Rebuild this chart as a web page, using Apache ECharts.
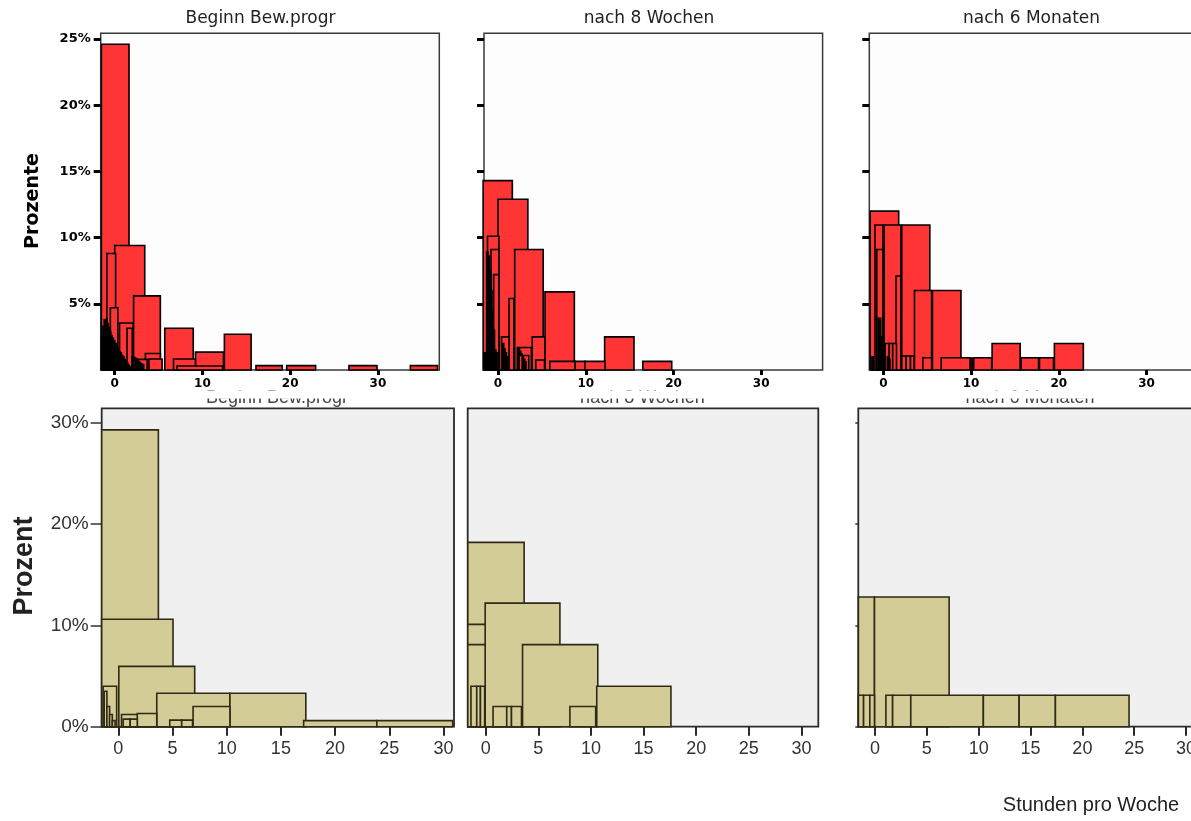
<!DOCTYPE html>
<html>
<head>
<meta charset="utf-8">
<script src="https://cdn.jsdelivr.net/npm/echarts@6/dist/echarts.min.js"></script>
<style>
  html, body { margin: 0; padding: 0; background: #ffffff; }
  #chart { width: 1191px; height: 821px; }
</style>
</head>
<body>
<div id="chart"></div>
<script>
// Panel titles, axis names and tick values
const panelTitles = ['Beginn Bew.progr', 'nach 8 Wochen', 'nach 6 Monaten'];
const topAxisName = 'Prozente';
const bottomAxisName = 'Prozent';
const xAxisName = 'Stunden pro Woche';
const topXTicks = [0, 10, 20, 30];
const topYTicks = [5, 10, 15, 20, 25];
const bottomXTicks = [0, 5, 10, 15, 20, 25, 30];
const bottomYTicks = [0, 10, 20, 30];

// Histogram bins, each as [from (h), to (h), percent]
const topBeginn = [
  [-1.52, 1.63, 24.6], [0.0, 3.42, 9.4], [-0.9, 0.1, 8.8], [-0.5, 0.35, 4.7],
  [0.55, 2.1, 3.55], [1.4, 2.0, 3.15], [2.15, 5.2, 5.6], [3.5, 5.2, 1.25],
  [3.9, 5.4, 0.83], [2.2, 3.7, 0.8], [5.7, 8.95, 3.15], [6.7, 9.2, 0.83],
  [7.1, 12.3, 0.3], [9.2, 12.4, 1.35], [12.5, 15.55, 2.7], [16.1, 19.1, 0.33],
  [19.6, 22.9, 0.33], [26.7, 29.9, 0.33], [33.7, 36.8, 0.33],
  // many single-value bins close to zero
  [-1.5, -1.35, 2.5], [-1.35, -1.2, 3.3], [-1.2, -1.05, 3.8], [-1.05, -0.9, 3.8],
  [-0.9, -0.75, 3.5], [-0.75, -0.6, 3.2], [-0.6, -0.45, 2.9], [-0.45, -0.3, 2.6],
  [-0.3, -0.15, 2.4], [-0.15, 0.0, 2.2], [0.0, 0.15, 2.0], [0.15, 0.3, 1.8],
  [0.3, 0.45, 1.6], [0.45, 0.6, 1.4], [0.6, 0.75, 1.3], [0.75, 0.9, 1.1],
  [0.9, 1.05, 1.0], [1.05, 1.2, 0.8], [1.2, 1.35, 0.6], [1.35, 1.5, 0.5],
  [1.5, 1.65, 0.35], [1.65, 1.8, 0.25],
  [1.95, 2.1, 1.0], [2.1, 2.25, 0.95], [2.25, 2.4, 0.9], [2.4, 2.55, 0.8],
  [2.55, 2.7, 0.7], [2.7, 2.85, 0.6], [2.85, 3.0, 0.5], [3.0, 3.15, 0.45], [3.15, 3.3, 0.4]
];
const topWochen = [
  [-1.7, 1.63, 14.3], [0.0, 3.4, 12.9], [1.9, 5.15, 9.1], [5.35, 8.7, 5.9],
  [12.15, 15.5, 2.5], [16.5, 19.8, 0.65], [5.9, 8.8, 0.65], [8.8, 9.9, 0.65],
  [9.9, 12.2, 0.65], [-1.2, 0.1, 10.1], [-0.8, 0.1, 9.1], [-0.5, 0.1, 7.2],
  [1.25, 1.8, 5.4], [3.9, 5.35, 2.5], [0.4, 1.25, 2.5], [2.2, 3.8, 1.7],
  [2.4, 3.5, 1.1], [4.3, 5.3, 0.75],
  [-1.6, -1.45, 1.3], [-1.45, -1.3, 1.3], [-1.3, -1.15, 8.9], [-1.15, -1.0, 8.6],
  [-1.0, -0.85, 7.5], [-0.85, -0.7, 6.0], [-0.7, -0.55, 4.5], [-0.55, -0.4, 3.0],
  [-0.4, -0.25, 1.5], [-0.25, -0.1, 1.3], [0.5, 0.65, 2.0], [0.65, 0.8, 1.6],
  [0.8, 0.95, 1.3], [0.95, 1.1, 1.0], [2.3, 2.45, 1.6], [2.45, 2.6, 1.4],
  [2.6, 2.75, 1.2], [2.75, 2.9, 1.0], [2.9, 3.05, 0.8], [3.05, 3.2, 0.6]
];
const topMonate = [
  [-1.5, 1.75, 12.0], [-0.95, -0.05, 10.95], [0.1, 2.0, 10.95], [2.1, 5.3, 10.95],
  [-0.75, -0.05, 9.1], [1.45, 2.0, 7.1], [3.55, 5.5, 6.0], [5.6, 8.85, 6.0],
  [0.2, 0.68, 2.0], [0.68, 1.07, 2.0], [1.07, 1.5, 2.0], [12.4, 15.6, 2.0],
  [15.7, 17.7, 0.93], [17.8, 19.4, 0.93], [19.5, 22.8, 2.0], [10.3, 12.35, 0.93],
  [6.6, 9.9, 0.93], [4.5, 5.5, 0.93], [2.1, 2.6, 1.06], [2.6, 3.1, 1.06],
  [3.1, 3.5, 1.06],
  [-1.3, -1.15, 1.0], [-0.6, -0.45, 3.9], [-0.45, -0.3, 3.9], [-0.3, -0.15, 2.5],
  [-0.15, 0.0, 1.5], [0.45, 0.6, 1.0], [0.6, 0.75, 0.8], [9.95, 10.15, 0.9]
];
const bottomBeginn = [
  [-1.53, 3.7, 29.3], [-1.53, 5.05, 10.6], [0.05, 7.05, 5.95], [3.55, 10.3, 3.3],
  [10.3, 17.3, 3.3], [6.9, 10.3, 2.0], [17.1, 23.85, 0.6], [23.85, 30.85, 0.6],
  [1.75, 3.55, 1.3], [0.3, 1.75, 1.2], [4.75, 5.85, 0.65], [5.85, 6.85, 0.65],
  [-1.4, -0.15, 4.0], [0.45, 1.1, 0.75], [1.1, 1.75, 0.75],
  [-1.3, -1.05, 3.5], [-1.05, -0.8, 2.0], [-0.8, -0.55, 1.2], [-0.55, -0.3, 0.6]
];
const bottomWochen = [
  [-1.7, 3.65, 18.2], [-0.05, 7.05, 12.2], [3.5, 10.65, 8.1], [10.55, 17.6, 4.0],
  [-1.7, -0.05, 10.1], [-1.7, -0.05, 8.1], [-1.4, -0.85, 4.0], [-0.85, -0.5, 4.0],
  [-0.5, -0.1, 4.0], [0.7, 2.0, 2.0], [2.0, 2.45, 2.0], [2.45, 3.4, 2.0],
  [8.0, 10.45, 2.0]
];
const bottomMonate = [
  [-1.6, -0.05, 12.8], [-0.05, 7.15, 12.8], [-1.6, -1.1, 3.1], [-1.1, -0.5, 3.1],
  [-0.5, -0.05, 3.1], [1.05, 1.7, 3.1], [1.7, 3.45, 3.1], [3.45, 10.45, 3.1],
  [10.45, 13.9, 3.1], [13.9, 17.4, 3.1], [17.4, 24.5, 3.1]
];

const topSets = [topBeginn, topWochen, topMonate];
const bottomSets = [bottomBeginn, bottomWochen, bottomMonate];

// Panel placement (pixels) and axis ranges
const topGrids = [
  { left: 100.7, top: 33.3, width: 338.6, height: 336.7, xMin: -1.6, xMax: 37 },
  { left: 484,   top: 33.3, width: 338.6, height: 336.7, xMin: -1.6, xMax: 37 },
  { left: 869.3, top: 33.3, width: 338.6, height: 336.7, xMin: -1.6, xMax: 37 }
];
const bottomGrids = [
  { left: 101.7, top: 408.3, width: 352.3, height: 318.4, xMin: -1.53, xMax: 30.97, yTick: 11 },
  { left: 467.7, top: 408.3, width: 350.6, height: 318.4, xMin: -1.71, xMax: 31.6,  yTick: 0 },
  { left: 858.3, top: 408.3, width: 351,   height: 318.4, xMin: -1.61, xMax: 32.24, yTick: 3 }
];
const topYMax = 25.43;
const bottomYMax = 31.43;

const RED = '#ff3434';
const KHAKI = '#d3cc96';

function sortedDesc(rows) {
  return rows.slice().sort((a, b) => b[2] - a[2]);
}

function makeRender(fill, stroke, lw) {
  return function (params, api) {
    const p0 = api.coord([api.value(0), api.value(2)]);
    const p1 = api.coord([api.value(1), 0]);
    return {
      type: 'rect',
      shape: { x: p0[0], y: p0[1], width: p1[0] - p0[0], height: p1[1] - p0[1] },
      style: { fill: fill, stroke: stroke, lineWidth: lw }
    };
  };
}

const grid = [], xAxis = [], yAxis = [], series = [];

topGrids.forEach((g, i) => {
  grid.push({
    left: g.left, top: g.top, width: g.width, height: g.height,
    outerBoundsMode: 'none', containLabel: false,
    show: true, backgroundColor: '#fdfdfd', borderColor: '#3a3a3a', borderWidth: 1.5
  });
  xAxis.push({
    type: 'value', gridIndex: i, min: g.xMin, max: g.xMax, position: 'bottom',
    axisLine: { show: false, onZero: false }, splitLine: { show: false },
    axisTick: { show: true, inside: false, customValues: topXTicks, length: 5, lineStyle: { color: '#000', width: 3 } },
    axisLabel: {
      customValues: topXTicks, margin: 8, color: '#000',
      fontFamily: 'DejaVu Sans', fontWeight: 'bold', fontSize: 12
    }
  });
  yAxis.push({
    type: 'value', gridIndex: i, min: 0, max: topYMax, position: 'left',
    axisLine: { show: false, onZero: false }, splitLine: { show: false },
    axisTick: { show: true, inside: false, customValues: topYTicks, length: 7, lineStyle: { color: '#000', width: 3 } },
    axisLabel: {
      show: i === 0, customValues: topYTicks, margin: 10, formatter: '{value}%',
      color: '#000', fontFamily: 'DejaVu Sans', fontWeight: 'bold', fontSize: 13
    }
  });
  series.push({
    type: 'custom', xAxisIndex: i, yAxisIndex: i,
    encode: { x: [0, 1], y: 2 },
    renderItem: makeRender(RED, '#000', 1.6),
    data: sortedDesc(topSets[i]),
    z: 3
  });
});

bottomGrids.forEach((g, j) => {
  const i = j + 3;
  grid.push({
    left: g.left, top: g.top, width: g.width, height: g.height,
    outerBoundsMode: 'none', containLabel: false,
    show: true, backgroundColor: '#f0f0f0', borderColor: '#2a2a2a', borderWidth: 1.8
  });
  xAxis.push({
    type: 'value', gridIndex: i, min: g.xMin, max: g.xMax, position: 'bottom',
    axisLine: { show: false, onZero: false }, splitLine: { show: false },
    axisTick: { show: true, inside: false, customValues: bottomXTicks, length: 9, lineStyle: { color: '#2a2a2a', width: 2 } },
    axisLabel: {
      customValues: bottomXTicks, margin: 13, color: '#333',
      fontFamily: 'Liberation Sans', fontSize: 18
    }
  });
  yAxis.push({
    type: 'value', gridIndex: i, min: 0, max: bottomYMax, position: 'left',
    axisLine: { show: false, onZero: false }, splitLine: { show: false },
    axisTick: { show: g.yTick > 0, inside: false, customValues: bottomYTicks, length: g.yTick, lineStyle: { color: '#333', width: 1.5 } },
    axisLabel: {
      show: j === 0, customValues: bottomYTicks, margin: 13, formatter: '{value}%',
      color: '#333', fontFamily: 'Liberation Sans', fontSize: 19
    }
  });
  series.push({
    type: 'custom', xAxisIndex: i, yAxisIndex: i,
    encode: { x: [0, 1], y: 2 },
    renderItem: makeRender(KHAKI, '#2e2a16', 1.6),
    data: sortedDesc(bottomSets[j]),
    z: 3
  });
});

function label(text, x, y, font, fill, rotation) {
  return {
    type: 'text', x: x, y: y, rotation: rotation || 0, z: 10,
    style: {
      text: text, font: font, fill: fill,
      textAlign: 'center', textVerticalAlign: 'middle',
      align: 'center', verticalAlign: 'middle'
    }
  };
}

const topTitleX = [260.5, 649, 1031.5];
const bottomTitleX = [277, 642.5, 1030];

const graphic = [];
panelTitles.forEach((t, k) => {
  graphic.push(label(t, topTitleX[k], 19, '17px "DejaVu Sans"', '#222'));
  graphic.push(label(t, bottomTitleX[k], 398, '18px "Liberation Sans"', '#444'));
});
// the upper panel row ends here; the lower row's headings peek out below it
graphic.push({
  type: 'rect', z: 20,
  shape: { x: 0, y: 390.5, width: 1191, height: 8 },
  style: { fill: '#ffffff' }
});
graphic.push(label(topAxisName, 33, 201, 'bold 19px "DejaVu Sans"', '#000', Math.PI / 2));
graphic.push(label(bottomAxisName, 25, 566, 'bold 27px "Liberation Sans"', '#222', Math.PI / 2));
graphic.push(label(xAxisName, 1091, 805, '20px "Liberation Sans"', '#222'));

const chart = echarts.init(document.getElementById('chart'), null, { renderer: 'canvas' });
chart.setOption({
  animation: false,
  backgroundColor: '#ffffff',
  grid: grid,
  xAxis: xAxis,
  yAxis: yAxis,
  series: series,
  graphic: graphic
});
</script>
</body>
</html>
